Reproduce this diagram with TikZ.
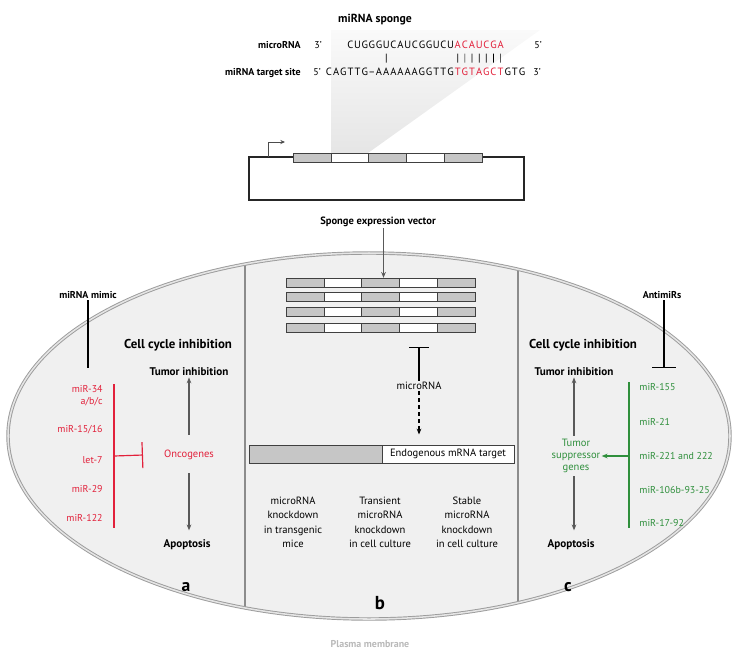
\documentclass[tikz,border=0pt]{standalone}
\usepackage{fontspec}
\setmainfont{PT Sans}
\usetikzlibrary{arrows.meta,positioning}
\definecolor{mirred}{HTML}{E2213B}
\definecolor{mirgreen}{HTML}{2F8F3C}
\definecolor{boxgray}{HTML}{C6C6C6}
\definecolor{cellgray}{HTML}{F0F0F0}
\definecolor{membgray}{HTML}{9C9C9C}
\tikzset{
  lbl/.style={font=\fontsize{8.5}{10}\selectfont, inner sep=1pt},
  head/.style={font=\fontsize{8.5}{10}\selectfont\bfseries, inner sep=1pt},
  bighead/.style={font=\fontsize{11}{12}\selectfont\bfseries, inner sep=1pt},
  midhead/.style={font=\fontsize{9.5}{10}\selectfont\bfseries, inner sep=1pt},
  letter/.style={font=\fontsize{9}{10}\selectfont, anchor=base, inner sep=1pt},
  gseg/.style={draw=black!75, fill=boxgray, minimum width=1.134cm, minimum height=0.28cm, inner sep=0pt, outer sep=0pt},
  wseg/.style={gseg, fill=white},
  grayarrow/.style={draw=black!65, line width=0.9pt, -{Stealth[length=5pt,width=4pt]}},
  pairline/.style={line width=0.6pt, shorten <=3.5pt, shorten >=3pt},
}
\begin{document}
\begin{tikzpicture}[x=0.03cm,y=-0.03cm]
\useasboundingbox (0,0) rectangle (738,659);

% wedge behind sequence
\shade[top color=gray!4, bottom color=gray!20] (331,30) -- (540,30) -- (368,153) -- (331,153) -- cycle;

% sponge sequence
\node[head, font=\fontsize{10}{12}\selectfont\bfseries] (sponge) at (375,20) {miRNA sponge};
\node[head, anchor=base east] (mirlbl) at (302,48) {microRNA};
\node[lbl, anchor=base] (p3a) at (318,48) {3’};
\node[lbl, anchor=base] (p5a) at (538,48) {5’};
\node[head, anchor=base east] (sitelbl) at (302,75) {miRNA target site};
\node[lbl, anchor=base] (p5b) at (317,75) {5’};
\node[lbl, anchor=base] (p3b) at (537,75) {3’};
\foreach \b [count=\i] in {C,U,G,G,G,U,C,A,U,C,G,G,U,C,U}
  \node[letter] (s1-\i) at ({350.5+(\i-1)*7.15},48) {\b};
\foreach \b [count=\i from 16] in {A,C,A,U,C,G,A}
  \node[letter, text=mirred] (s1-\i) at ({350.5+(\i-1)*7.15},48) {\b};
\foreach \b [count=\i] in {C,A,G,T,T,G,–,A,A,A,A,A,A,G,G,T,T,G}
  \node[letter] (s2-\i) at ({329+(\i-1)*7.15},75) {\b};
\foreach \b [count=\i from 19] in {T,G,T,A,G,C,T}
  \node[letter, text=mirred] (s2-\i) at ({329+(\i-1)*7.15},75) {\b};
\foreach \b [count=\i from 26] in {G,T,G}
  \node[letter] (s2-\i) at ({329+(\i-1)*7.15},75) {\b};
% base pairs
\draw[pairline] (s1-6.south) -- (s2-9.north);
\foreach \i [evaluate=\i as \j using int(\i+3)] in {16,...,22}
  \draw[pairline] (s1-\i.south) -- (s2-\j.north);

% expression vector
\draw[line width=1pt, black!85] (249,157) rectangle (524,200);
\coordinate (prom) at (268,157);
\coordinate (promtip) at (285,142);
\draw[black!70, line width=0.8pt, -{Stealth[length=4pt,width=3.5pt]}] (prom) |- (promtip);
\foreach \k/\s in {0/gseg,1/wseg,2/gseg,3/wseg,4/gseg}
  \node[\s] (v\k) at ({311.9+\k*37.8},157.5) {};
\node[head, font=\fontsize{9}{10}\selectfont\bfseries] (spvec) at (378,222) {Sponge expression vector};

% cell
\fill[cellgray] (369,436) ellipse [x radius=361, y radius=183];
\begin{scope}
  \clip (369,436) ellipse [x radius=361, y radius=183];
  \draw[black!45, line width=0.9pt] (245,240) -- (245,630);
  \draw[black!45, line width=0.9pt] (518,240) -- (518,630);
\end{scope}
\draw[membgray, line width=0.8pt, double=gray!20, double distance=1.3pt] (369,436) ellipse [x radius=361, y radius=183];

% panel b
\foreach \r/\y in {1/282.5,2/297,3/312,4/328}
  \foreach \k/\s in {0/gseg,1/wseg,2/gseg,3/wseg,4/gseg}
    \node[\s] (r\r-\k) at ({304.9+\k*37.8},\y) {};
\draw[grayarrow] (spvec.south -| r1-2.north) ++(3,0) coordinate (sptop) -- (sptop |- r1-2.north);
\node[lbl, font=\fontsize{9}{10}\selectfont] (mirna) at (419,386) {microRNA};
\coordinate (tsponge) at (419,347);
\draw[line width=1pt, -{Bar[width=6mm]}] (mirna.north) -- (tsponge);
\node[gseg, minimum width=3.99cm, minimum height=0.54cm] (mgray) at (315.5,454) {};
\node[wseg, minimum width=3.96cm, minimum height=0.54cm, anchor=west, font=\fontsize{9}{10}\selectfont] (mtarget) at (mgray.east) {Endogenous mRNA target};
\draw[line width=1pt, dashed, -{Stealth[length=5pt,width=4pt]}, shorten >=9pt] (mirna.south) -- (mirna.south |- mtarget.north);
\node[lbl, font=\fontsize{9}{12}\selectfont, align=center, anchor=north] (kdmice) at (293,496) {microRNA\\knockdown\\in transgenic\\mice};
\node[lbl, font=\fontsize{9}{12}\selectfont, align=center, anchor=north] (kdtrans) at (380,496) {Transient\\microRNA\\knockdown\\in cell culture};
\node[lbl, font=\fontsize{9}{12}\selectfont, align=center, anchor=north] (kdstable) at (467,496) {Stable\\microRNA\\knockdown\\in cell culture};
\node[font=\fontsize{16}{18}\selectfont\bfseries] (pb) at (380,603) {b};

% panel a
\node[head] (mimic) at (88,295) {miRNA mimic};
\coordinate (mimicend) at (88,368);
\draw[line width=1.1pt] (mimic.south) -- (mimicend);
\node[bighead] (ccA) at (178,345) {Cell cycle inhibition};
\node[midhead] (tiA) at (189,372) {Tumor inhibition};
\coordinate (redtop) at (114,384);
\coordinate (redbot) at (114,528);
\coordinate (redmid) at (114,456);
\draw[mirred, line width=1pt] (redtop) -- (redbot);
\node[lbl, text=mirred, anchor=east, align=right] (m34) at (104,396) {miR-34\\a/b/c};
\node[lbl, text=mirred, anchor=east] (m15) at (104,430) {miR-15/16};
\node[lbl, text=mirred, anchor=east] (let7) at (104,460) {let-7};
\node[lbl, text=mirred, anchor=east] (m29) at (104,489) {miR-29};
\node[lbl, text=mirred, anchor=east] (m122) at (104,518) {miR-122};
\node[lbl, text=mirred, font=\fontsize{9}{10}\selectfont] (onc) at (189,455) {Oncogenes};
\draw[mirred, line width=1pt, -{Bar[width=7.8mm]}] (redmid) -- (onc.west -| 143,0);
\node[midhead] (apA) at (187,545) {Apoptosis};
\draw[grayarrow, shorten <=12pt] (onc) -- (tiA.south);
\draw[grayarrow, shorten <=10pt, shorten >=7pt] (onc) -- (apA.north -| onc);
\node[font=\fontsize{15}{18}\selectfont\bfseries] (pa) at (186,587) {a};

% panel c
\node[head] (anti) at (662,295) {AntimiRs};
\coordinate (antiend) at (664,368);
\draw[line width=1.1pt, -{Bar[width=7mm]}] (anti.south -| antiend) -- (antiend);
\node[bighead] (ccC) at (583,345) {Cell cycle inhibition};
\node[midhead] (tiC) at (574,372) {Tumor inhibition};
\coordinate (grntop) at (629,382);
\coordinate (grnbot) at (629,528);
\coordinate (grnmid) at (629,456);
\draw[mirgreen, line width=1pt] (grntop) -- (grnbot);
\node[lbl, text=mirgreen, anchor=west] (m155) at (638,387) {miR-155};
\node[lbl, text=mirgreen, anchor=west] (m21) at (638,422) {miR-21};
\node[lbl, text=mirgreen, anchor=west] (m221) at (638,456) {miR-221 and 222};
\node[lbl, text=mirgreen, anchor=west] (m106) at (638,490) {miR-106b-93-25};
\node[lbl, text=mirgreen, anchor=west] (m1792) at (638,523) {miR-17-92};
\node[lbl, text=mirgreen, align=center, font=\fontsize{9}{10}\selectfont] (tsg) at (576,456) {Tumor\\suppressor\\genes};
\draw[mirgreen, line width=1pt, -{Stealth[length=5pt,width=4pt]}] (grnmid) -- (tsg.east);
\node[midhead] (apC) at (571,545) {Apoptosis};
\draw[grayarrow, shorten <=2pt] (tsg.north -| 574,0) -- (tiC.south -| 574,0);
\draw[grayarrow, shorten <=2pt, shorten >=7pt] (tsg.south -| 574,0) -- (apC.north -| 574,0);
\node[font=\fontsize{15}{18}\selectfont\bfseries] (pc) at (568,587) {c};

\node[head, text=gray!55] (memb) at (370,644) {Plasma membrane};
\end{tikzpicture}
\end{document}
